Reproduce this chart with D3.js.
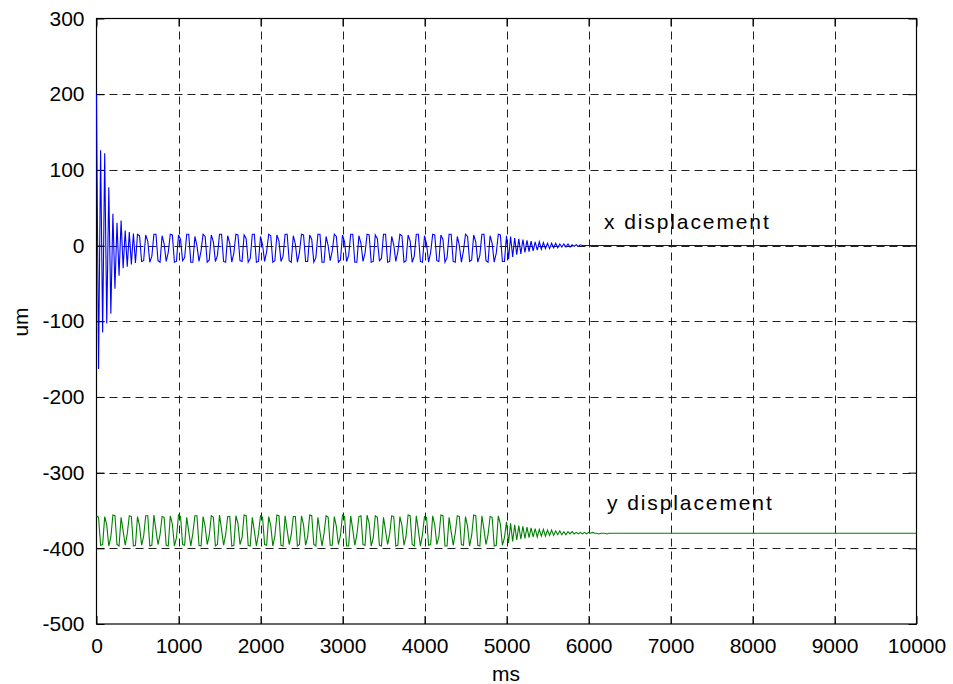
<!DOCTYPE html>
<html>
<head>
<meta charset="utf-8">
<script src="https://cdn.jsdelivr.net/npm/d3@7"></script>
<style>
  html, body { margin: 0; padding: 0; background: #fff; }
  text { font-family: "Liberation Sans", Arial, sans-serif; fill: #000; }
</style>
</head>
<body>
<svg id="chart" width="953" height="684"></svg>
<script>
// ---------- data ----------
const xTicks = [0, 1000, 2000, 3000, 4000, 5000, 6000, 7000, 8000, 9000, 10000];
const yTicks = [-500, -400, -300, -200, -100, 0, 100, 200, 300];
const xDomainMs = [0, 10000];
const yDomainUm = [-500, 300];
const sampleIntervalMs = 25;   // samples are listed every 25 ms, last value held to the end
const seriesNames = ["x displacement", "y displacement"];

const xDisplacement = [
  200, -163, 126, -115, 122, -103, 77, -90, 42, -57, 30, -40, 33, -30, 20, -28, 18, -25, 16, -23,
  15,13,-21,-20, 14,6,-22,-14, 15,15,-20,-22, 13,2,-21,-9, 15,14,-22,-21,
  14,8,-20,-16, 15,15,-22,-22, 12,0,-21,-7, 15,12,-22,-19, 14,5,-21,-13,
  15,15,-21,-22, 13,3,-22,-10, 15,14,-20,-21, 14,9,-22,-17, 15,15,-22,-21,
  12,1,-21,-8, 15,13,-22,-20, 14,6,-21,-14, 15,15,-20,-22, 13,2,-22,-9,
  15,14,-21,-21, 14,8,-22,-16, 15,15,-22,-22, 12,0,-20,-7, 15,12,-22,-19,
  14,5,-21,-13, 15,15,-22,-22, 13,3,-21,-10, 15,14,-22,-21, 14,9,-20,-17,
  15,15,-22,-21, 12,1,-21,-8, 15,13,-22,-20, 14,6,-22,-14, 15,15,-21,-22,
  13,2,-22,-9, 15,14,-20,-21, 14,8,-22,-16, 15,15,-21,-22, 12,0,-22,-7,
  15,12,-21,-19, 14,5,-22,-13, 15,15,-20,-22, 13,3,-22,-10, 15,14,-21,-21,
  13,-18,12,-15,10,-12,9,-11,8,-9,7,-8,6,-7,5,-6,5,-5,4,-4,
  3,-4,3,-3,3,-3,2,-2,2,-2,2,-2,1,-1,1,-1,1,0,0,0,
  0
];

const yDisplacement = [
  -357,-359,-396,-395, -358,-369,-397,-385, -356,-357,-395,-397, -359,-377,-396,-381, -357,-358,-397,-396,
  -358,-370,-396,-384, -357,-357,-397,-396, -356,-376,-395,-382, -358,-359,-396,-397, -357,-368,-397,-386,
  -356,-358,-395,-396, -359,-378,-397,-380, -357,-357,-396,-397, -358,-371,-395,-383, -357,-359,-397,-395,
  -356,-375,-396,-382, -358,-358,-397,-396, -357,-367,-395,-386, -356,-357,-396,-397, -359,-377,-397,-381,
  -357,-359,-395,-396, -358,-370,-397,-384, -356,-357,-396,-397, -357,-376,-395,-382, -358,-358,-397,-395,
  -357,-369,-396,-385, -356,-357,-395,-397, -359,-378,-397,-380, -357,-359,-396,-396, -358,-371,-395,-383,
  -356,-358,-397,-397, -357,-375,-396,-382, -358,-357,-395,-396, -356,-367,-397,-386, -357,-359,-396,-397,
  -359,-377,-395,-381, -357,-358,-397,-396, -358,-370,-396,-384, -356,-357,-395,-397, -357,-376,-397,-382,
  -358,-359,-396,-395, -357,-369,-395,-385, -356,-357,-397,-397, -359,-378,-396,-380, -357,-358,-395,-396,
  -358,-371,-397,-383, -356,-357,-396,-397, -357,-375,-395,-382, -358,-359,-397,-396, -357,-368,-396,-386,
  -365,-393,-367,-391,-369,-389,-370,-388,-371,-387,
  -372,-386,-373,-385,-374,-385,-375,-384,-375,-384,
  -376,-383,-376,-383,-377,-382,-377,-382,-378,-382,
  -378,-381,-378,-381,-379,-381,-379,-381,-379,-381,
  -379,-380,-379,-380,-380,-381,-380,-380,-380,-381,
  -380,-380,-380,-380,-380,-380,-380,-380,-380,-380,
  -380
];

const seriesColors = ["#0000ff", "#008000"];

// ---------- layout ----------
const svg = d3.select("#chart");
const W = 953, H = 684;
const plot = { left: 96.5, right: 916.5, top: 18.5, bottom: 624 };

const x = d3.scaleLinear().domain(xDomainMs).range([plot.left, plot.right]);
const y = d3.scaleLinear().domain(yDomainUm).range([plot.bottom, plot.top]);

svg.append("rect").attr("width", W).attr("height", H).attr("fill", "#fff");

const g = svg.append("g");

// grid
g.append("g").selectAll("line").data(xTicks.slice(1, -1)).join("line")
  .attr("x1", d => Math.round(x(d)) + 0.5).attr("x2", d => Math.round(x(d)) + 0.5)
  .attr("y1", plot.top).attr("y2", plot.bottom)
  .attr("stroke", "#202020").attr("stroke-width", 1).attr("stroke-dasharray", "8,5");
g.append("g").selectAll("line").data(yTicks.slice(1, -1)).join("line")
  .attr("y1", d => Math.round(y(d)) + 0.5).attr("y2", d => Math.round(y(d)) + 0.5)
  .attr("x1", plot.left).attr("x2", plot.right)
  .attr("stroke", "#202020").attr("stroke-width", 1).attr("stroke-dasharray", "8,5");

// axes (D3 axes with inward ticks)
const fmt = d => String(d);
const xAxis = d3.axisBottom(x).tickValues(xTicks).tickSize(-8).tickPadding(14).tickFormat(fmt);
const yAxis = d3.axisLeft(y).tickValues(yTicks).tickSize(-8).tickPadding(12).tickFormat(fmt);
const xAxisTop = d3.axisTop(x).tickValues(xTicks).tickSize(-8).tickFormat("");
const yAxisRight = d3.axisRight(y).tickValues(yTicks).tickSize(-8).tickFormat("");

function styleAxis(sel) {
  sel.select(".domain").remove();
  sel.selectAll(".tick line").attr("stroke", "#000");
  sel.selectAll(".tick text").attr("font-size", 21).attr("fill", "#000")
    .attr("font-family", "'Liberation Sans', Arial, sans-serif");
}
g.append("g").attr("transform", `translate(0,${plot.bottom})`).call(xAxis).call(styleAxis);
g.append("g").attr("transform", `translate(${plot.left},0)`).call(yAxis).call(styleAxis);
g.append("g").attr("transform", `translate(0,${plot.top})`).call(xAxisTop).call(styleAxis);
g.append("g").attr("transform", `translate(${plot.right},0)`).call(yAxisRight).call(styleAxis);

// frame
g.append("rect")
  .attr("x", plot.left).attr("y", plot.top)
  .attr("width", plot.right - plot.left).attr("height", plot.bottom - plot.top)
  .attr("fill", "none").attr("stroke", "#000").attr("stroke-width", 1.2);

// series (drawn on top of frame, like the reference)
function toPoints(values) {
  const pts = values.map((v, i) => [i * sampleIntervalMs, v]);
  pts.push([xDomainMs[1], values[values.length - 1]]);
  return pts;
}
const line = d3.line().x(d => x(d[0])).y(d => y(d[1]));
[xDisplacement, yDisplacement].forEach((vals, k) => {
  g.append("path")
    .attr("d", line(toPoints(vals)))
    .attr("fill", "none")
    .attr("stroke", seriesColors[k])
    .attr("stroke-width", 1.1);
});

// axis labels
svg.append("text").attr("x", 506).attr("y", 681).attr("text-anchor", "middle")
  .attr("font-size", 21).text("ms");
svg.append("text").attr("transform", "translate(28,322) rotate(-90)").attr("text-anchor", "middle")
  .attr("font-size", 21).text("um");

// series annotations
svg.append("text").attr("x", 604).attr("y", 229).attr("font-size", 21)
  .attr("letter-spacing", "1.9px").text(seriesNames[0]);
svg.append("text").attr("x", 607).attr("y", 510).attr("font-size", 21)
  .attr("letter-spacing", "1.9px").text(seriesNames[1]);
</script>
</body>
</html>
